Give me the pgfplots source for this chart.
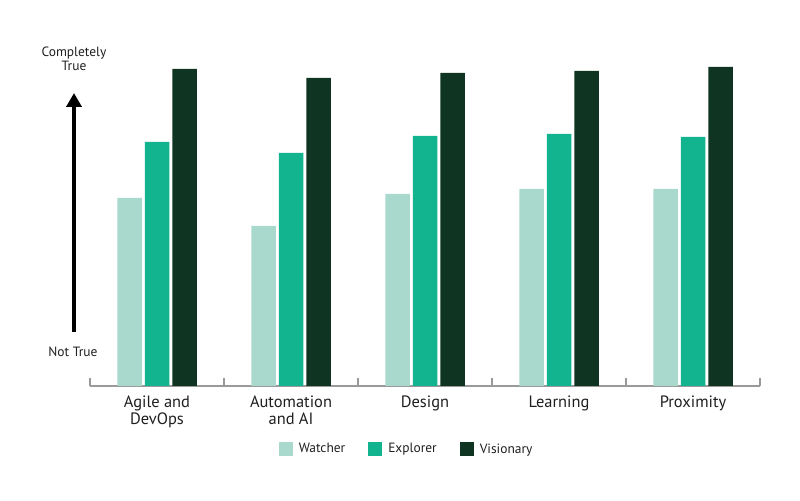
\documentclass[border=0pt]{standalone}
\usepackage{fontspec}
\setmainfont{PT Sans}
\usepackage{pgfplots}
\pgfplotsset{compat=1.18}
\usetikzlibrary{arrows.meta}
\definecolor{watcher}{HTML}{A9D8CC}
\definecolor{explorer}{HTML}{12B38F}
\definecolor{visionary}{HTML}{0F3421}
\definecolor{axgray}{HTML}{9A9A9A}
\begin{document}
\begin{tikzpicture}
\useasboundingbox (0,0) rectangle (800bp,501bp);
\begin{axis}[
  at={(90bp,115bp)}, anchor=south west,
  scale only axis, width=670bp, height=336bp,
  xmin=-0.5, xmax=4.5, ymin=0, ymax=336,
  axis x line*=bottom, axis y line=none,
  x axis line style={axgray, line width=1.8bp},
  ybar=3bp, bar width=24.5bp,
  xtick={0,1,2,3,4},
  xticklabels={{Agile and\\DevOps},{Automation\\and AI},Design,Learning,Proximity},
  major tick length=0pt,
  minor xtick={-0.5,0.5,1.5,2.5,3.5,4.5},
  minor tick length=8bp,
  tick align=inside,
  minor tick style={axgray, line width=1.2bp},
  xticklabel style={font=\fontsize{16.5}{17.5}\selectfont, align=center, anchor=north, yshift=-6bp, text=black!88},
  legend columns=3,
  legend style={at={(0.4725,-0.1875)}, anchor=center, draw=none, fill=none,
    font=\fontsize{13.5}{15}\selectfont, text=black!88,
    /tikz/every even column/.append style={column sep=21bp}},
  legend image code/.code={\fill[#1] (0bp,-6.5bp) rectangle (14bp,6.5bp); \path (18bp,0bp);},
]
\addplot[fill=watcher, draw=none] coordinates {(0,188) (1,160) (2,192) (3,197) (4,197)};
\addplot[fill=explorer, draw=none] coordinates {(0,244) (1,233) (2,250) (3,252) (4,249)};
\addplot[fill=visionary, draw=none] coordinates {(0,317) (1,308) (2,313) (3,315) (4,319)};
\legend{Watcher, Explorer, Visionary}
\end{axis}
\draw[line width=4.5bp, -{Triangle[width=15bp,length=14bp]}] (74bp,169bp) -- (74bp,408bp);
\node[align=center, font=\fontsize{13.5}{13.5}\selectfont, text=black!88] at (74bp,442bp) {Completely\\True};
\node[font=\fontsize{13.5}{15}\selectfont, text=black!88] at (73bp,149bp) {Not True};
\end{tikzpicture}
\end{document}
